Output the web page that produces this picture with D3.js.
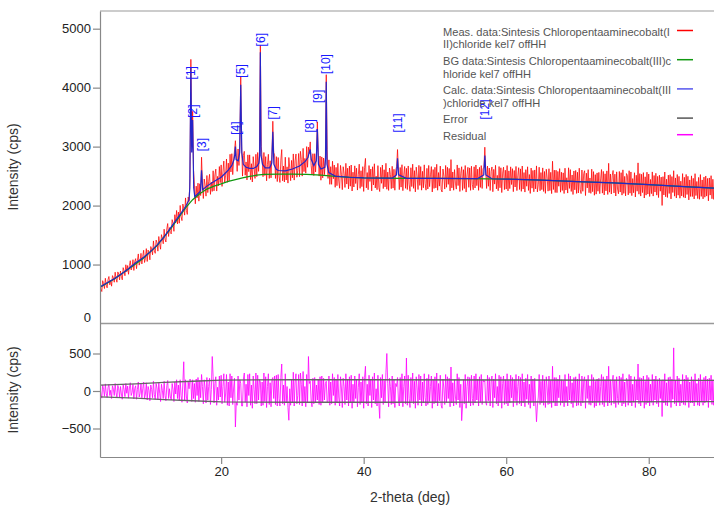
<!DOCTYPE html>
<meta charset="utf-8">
<script src="https://d3js.org/d3.v7.min.js"></script>
<style>
  body { margin: 0; background: #fff; }
  text { font-family: "Liberation Sans", Arial, sans-serif; }
</style>
<body></body>
<script>
// measured pattern, one value every 0.125 deg starting at 3 deg (one row per degree)
var measStart = 3, measStep = 0.125;
var measCps = [
  680,589,542,726,675,593,767,651,
  605,744,797,656,735,633,812,776,
  700,870,760,700,875,840,740,890,
  800,741,947,893,810,996,877,983,
  835,982,1065,907,960,1082,900,1052,
  1100,930,1070,1180,990,1050,1190,1010,
  1140,1242,1035,1107,1270,1052,1245,1207,
  1080,1305,1260,1165,1400,1235,1190,1415,
  1370,1227,1475,1352,1260,1507,1445,1352,
  1600,1431,1382,1603,1695,1476,1627,1538,
  1520,1761,1702,1563,1845,1706,1917,1688,
  1890,1701,2002,1813,1745,2026,1957,1838,
  2130,1915,1850,2145,2070,2460,4480,3000,
  3600,2600,2350,2030,2330,2130,2380,2075,
  2370,2170,2820,2360,2120,2450,2350,2160,
  2510,2220,2410,2530,2190,2400,2240,2590,
  2250,2520,2618,2246,2495,2335,2662,2390,
  2690,2325,2570,2755,2390,2515,2790,2395,
  2720,2420,2870,2570,2880,2525,2770,2925,
  3100,2850,2580,2960,2680,3050,4180,3000,
  2500,2850,2920,2515,2740,2435,2860,2575,
  2860,2440,2710,2400,2830,2650,2460,2870,
  2490,2900,2580,2900,4720,3000,2820,2490,
  2900,2510,2830,2420,2700,2870,2460,2760,
  2470,2870,3430,2900,2860,2460,2830,2407,
  2815,2493,2392,2771,2950,2420,2670,2400,
  2820,2433,2657,2381,2815,2638,2422,2766,
  2470,2876,2432,2758,2875,2481,2597,2883,
  2490,2920,2780,2500,2970,2575,2800,2550,
  3000,2650,2990,2880,3080,2680,2530,2880,
  2510,2880,2570,2880,3420,2900,2500,2840,
  2430,2825,2470,2807,2525,2800,4220,2950,
  2460,2775,2360,2660,2360,2752,2455,2687,
  2310,2648,2337,2716,2415,2294,2682,2531,
  2270,2659,2548,2307,2716,2365,2634,2283,
  2670,2329,2688,2247,2566,2315,2674,2374,
  2634,2263,2523,2702,2292,2591,2321,2660,
  2240,2650,2800,2300,2560,2269,2679,2409,
  2619,2249,2659,2349,2709,2299,2499,2269,
  2678,2308,2238,2648,2378,2688,2288,2608,
  2317,2717,2277,2567,2257,2637,2527,2287,
  2666,2296,2616,2260,2600,2660,2950,2600,
  2270,2646,2313,2693,2253,2523,2663,2293,
  2632,2272,2672,2362,2242,2642,2322,2702,
  2292,2592,2232,2652,2502,2272,2682,2342,
  2661,2261,2581,2301,2691,2371,2261,2631,
  2281,2681,2321,2521,2661,2231,2611,2291,
  2650,2300,2700,2260,2560,2330,2670,2270,
  2230,2620,2500,2280,2680,2310,2650,2360,
  2630,2250,2780,2300,2570,2260,2610,2380,
  2279,2689,2339,2639,2239,2549,2659,2259,
  2609,2289,2679,2229,2519,2649,2309,2639,
  2258,2668,2358,2268,2658,2298,2688,2338,
  2618,2258,2648,2308,2678,2290,2630,2640,
  2990,2620,2290,2670,2327,2637,2256,2576,
  2655,2235,2614,2364,2683,2283,2513,2252,
  2662,2302,2641,2221,2551,2651,2270,2600,
  2280,2679,2249,2588,2288,2657,2357,2626,
  2236,2595,2315,2664,2254,2503,2643,2272,
  2622,2241,2671,2280,2560,2229,2609,2328,
  2658,2257,2527,2206,2636,2295,2595,2234,
  2604,2283,2673,2232,2352,2651,2251,2560,
  2270,2639,2239,2578,2207,2616,2466,2245,
  2625,2254,2564,2203,2752,2272,2601,2221,
  2600,2219,2579,2328,2627,2227,2566,2256,
  2555,2204,2634,2263,2472,2212,2641,2291,
  2610,2239,2519,2188,2587,2267,2596,2206,
  2565,2214,2634,2274,2203,2603,2242,2542,
  2591,2170,2550,2299,2609,2218,2468,2207,
  2617,2236,2576,2175,2525,2194,2554,2243,
  2563,2202,2452,2611,2211,2580,2180,2539,
  2249,2588,2188,2717,2227,2536,2196,2505,
  2595,2214,2533,2162,2572,2281,2200,2579,
  2229,2558,2177,2606,2206,2495,2164,2543,
  2513,2182,2591,2210,2570,2169,2458,2217,
  2557,2146,2515,2244,2724,2193,2542,2161,
  2531,2220,2559,2128,2488,2177,2566,2195,
  2535,2154,2443,2202,2571,2161,2510,2229,
  2548,2177,2496,2136,2515,2244,2483,2002,
  2491,2180,2569,2149,2448,2137,2516,2205,
  2524,2113,2492,2222,2591,2160,2469,2128,
  2527,2176,2495,2125,2414,2163,2542,2141,
  2480,2129,2528,2188,2497,2096,2435,2154,
  2504,2153,2462,2112,2541,2170,2409,2118,
  2478,2107,2526,2156,2435,2114,2483,2142,
  2502,2161,2460,2080,2469,2178,2507,2116,
  2446,2105,2494,2144,2423,2082,2471,2150,
  2410
];
// residual, same grid
var residStart = 3, residStep = 0.125;
var residCps = [
  60,-40,-95,80,20,-70,95,-30,
  -85,45,90,-60,10,-100,70,25,
  -60,100,-20,-90,75,30,-80,60,
  -40,-110,85,20,-75,100,-30,65,
  -95,40,110,-60,-20,90,-105,35,
  70,-110,20,120,-80,-30,100,-90,
  30,120,-100,-40,110,-120,60,10,
  -130,80,20,-90,130,-50,-110,100,
  40,-120,110,-30,-140,90,10,-100,
  130,-60,-130,70,140,-100,30,-80,
  -120,100,20,-140,120,-40,150,-100,
  80,-130,150,-60,-150,110,390,-120,
  150,-80,-160,120,30,160,130,-140,
  150,-100,100,-150,160,-60,180,-140,
  140,-90,220,60,-170,150,40,-160,
  180,-120,60,170,-180,20,460,190,
  -160,100,190,-190,50,-120,200,-80,
  210,-170,60,230,-150,-40,220,-190,
  120,-200,230,-90,200,-180,40,170,
  -480,-150,-190,200,-120,150,100,-200,
  -200,160,240,-150,90,-210,220,-60,
  230,-190,80,-230,200,20,-170,240,
  -170,210,-120,150,120,-200,120,-190,
  240,-140,190,-220,60,230,-180,110,
  -210,150,180,-100,200,-180,210,-200,
  220,-100,-200,180,360,-170,80,-190,
  230,-160,60,-220,-390,30,-190,150,
  -150,250,-200,120,230,-170,-60,220,
  -180,240,90,-200,260,-150,60,-210,
  220,-160,460,100,130,-120,-210,170,
  -170,180,-150,80,-120,150,-180,190,
  -190,200,-160,170,-120,100,130,-150,
  -140,200,-190,120,-170,230,-60,180,
  -190,150,-160,220,-80,-200,190,40,
  -220,170,60,-180,230,-120,150,-200,
  190,-150,210,-230,90,-160,200,-100,
  160,-210,50,230,-180,120,-150,190,
  -230,180,330,-170,90,-200,210,-60,
  150,-220,190,-120,240,-170,30,-200,
  210,-160,-365,180,-90,220,-180,140,
  -150,250,500,100,-210,170,60,-180,
  200,-170,150,-220,100,60,180,-120,
  -200,180,-150,230,-210,60,200,-170,
  440,-190,210,-100,-220,180,-140,240,
  -170,130,-230,190,40,-190,220,-120,
  200,-200,120,-160,230,-90,-200,170,
  -180,220,-140,60,200,-230,150,-170,
  190,-160,240,-200,100,-130,210,-190,
  -230,160,40,-180,220,-150,190,-100,
  170,-210,320,-160,110,-200,150,-80,
  -180,230,-120,180,-220,90,-395,-200,
  150,-170,220,-230,60,190,-150,180,
  -200,210,-100,-190,200,-160,230,-120,
  160,-200,190,-150,220,-180,150,120,
  140,-150,-190,210,-130,180,-200,120,
  200,-220,160,-90,230,-170,60,-200,
  210,-150,190,-230,100,200,-180,150,
  -170,230,-200,140,-160,210,-90,180,
  -210,150,-130,220,-190,60,200,-170,
  180,-200,230,-160,120,-210,170,-110,
  220,-180,90,-230,200,-140,160,-200,
  170,-150,-410,-200,-80,220,-180,130,
  -160,210,-190,150,-220,190,40,-180,
  200,-170,140,-220,330,-150,180,-200,
  180,-200,160,-90,210,-190,150,-160,
  140,-210,220,-150,60,-200,230,-120,
  200,-170,110,-220,180,-140,190,-200,
  160,-190,230,-130,-200,200,-160,140,
  190,-230,150,-100,210,-180,70,-190,
  220,-160,180,-220,130,-200,160,-150,
  170,-190,60,220,-180,190,-210,150,
  -140,200,-200,330,-160,150,-190,120,
  210,-170,150,-220,190,-100,-180,200,
  -150,180,-200,230,-170,120,-210,170,
  140,-190,220,-160,200,-200,90,-150,
  190,-220,150,-120,360,-170,180,-200,
  170,-140,200,-230,130,-180,210,-160,
  180,-200,90,-150,220,-190,160,-120,
  200,-170,150,-210,170,-100,140,-340,
  150,-160,230,-190,110,-200,180,-130,
  190,-220,160,-110,575,-170,140,-200,
  200,-150,170,-200,90,-160,220,-180,
  160,-190,210,-130,180,-220,120,-160,
  190,-160,150,-200,230,-140,100,-190,
  170,-200,220,-150,130,-190,180,-160,
  200,-140,160,-220,170,-120,210,-180,
  150,-190,200,-150,130,-210,180,-140,
  120
];
// calculated profile [deg, cps]
var calcPts = [
  [3,620],[4,690],[5,760],[6,840],[7,930],[8,1030],[9,1110],[10,1210],[11,1330],[12,1470],
  [13,1640],[14,1810],[15,1980],[15.5,2100],[15.6,2300],[15.75,4350],[15.87,2900],[16,3450],
  [16.15,2300],[16.3,2150],[17,2230],[17.1,2260],[17.25,2600],[17.4,2270],[18,2330],[19,2410],
  [20,2480],[20.5,2540],[21,2600],[21.5,2680],[21.8,2780],[21.9,2850],[22,3000],[22.1,2780],
  [22.4,2760],[22.6,2900],[22.75,4050],[22.9,2900],[23.1,2700],[23.5,2650],[24,2630],[24.5,2630],
  [25,2660],[25.3,2720],[25.4,2850],[25.5,4600],[25.6,2850],[25.8,2700],[26.2,2640],[26.8,2640],
  [27.1,2720],[27.25,3250],[27.4,2700],[27.7,2620],[28,2595],[29,2590],[30,2620],[31,2670],
  [31.8,2750],[32.2,2820],[32.35,2900],[32.5,2950],[32.65,2780],[33,2680],[33.35,2760],[33.5,3300],
  [33.65,2700],[34,2620],[34.55,2650],[34.65,2800],[34.75,4100],[34.85,2700],[35.1,2560],[36,2500],
  [38,2480],[40,2470],[44,2465],[44.6,2520],[44.75,2800],[44.9,2520],[46,2462],[50,2460],
  [56,2458],[56.85,2520],[57,2850],[57.15,2520],[58,2455],[60,2450],[65,2430],[70,2405],
  [75,2385],[80,2355],[85,2320],[90,2290]
];
// background [deg, cps]
var bgPts = [
  [3,615],[5,755],[7,925],[9,1100],[11,1320],[13,1620],[15,1960],[16,2100],[17,2200],[18,2280],
  [19,2330],[20,2370],[21,2410],[22,2440],[23,2470],[24,2495],[25,2515],[26,2528],[28,2535],
  [30,2535],[32,2528],[34,2515],[36,2495],[38,2480],[40,2470],[45,2462],[50,2460],[55,2458],
  [60,2450],[65,2430],[70,2405],[75,2385],[80,2355],[85,2320],[90,2290]
];
// error envelope (+/-) [deg, cps]
var errPts = [[3,78],[8,95],[12,115],[16,130],[20,145],[30,150],[40,150],[60,147],[90,142]];

var peakNames = ["[1]","[2]","[3]","[4]","[5]","[6]","[7]","[8]","[9]","[10]","[11]","[12]"];
var peakDeg = [15.75,16.0,17.25,22.0,22.75,25.5,27.25,32.5,33.5,34.75,44.75,57.0];
var peakLabelCps = [4140,3490,2920,3200,4170,4700,3460,3240,3740,4230,3240,3460];

var legendText = [
  ["Meas. data:Sintesis Chloropentaaminecobalt(I", "II)chloride kel7 offHH"],
  ["BG data:Sintesis Chloropentaaminecobalt(III)c", "hloride kel7 offHH"],
  ["Calc. data:Sintesis Chloropentaaminecobalt(III", ")chloride kel7 offHH"],
  ["Error"],
  ["Residual"]
];
var legendColor = ["#ff0000", "#119911", "#5555ee", "#555555", "#ff00ff"];

var topTicks = [0,1000,2000,3000,4000,5000];
var botTicks = [-500,0,500];
var xTicks = [20,40,60,80];

var width = 714, height = 505;
var svg = d3.select("body").append("svg")
    .attr("width", width)
    .attr("height", height);

var x = d3.scaleLinear().domain([3, 90]).range([100, 720]);
var yTop = d3.scaleLinear().domain([0, 5300]).range([323.5, 11]);
var yBot = d3.scaleLinear().domain([-880, 900]).range([457, 323.5]);

var defs = svg.append("defs");
defs.append("clipPath").attr("id", "clipTop").append("rect")
    .attr("x", 100).attr("y", 11).attr("width", 620).attr("height", 312.5);
defs.append("clipPath").attr("id", "clipBot").append("rect")
    .attr("x", 100).attr("y", 323.5).attr("width", 620).attr("height", 133.5);

var meas = measCps.map(function(v, i) { return [measStart + i * measStep, v]; });
var resid = residCps.map(function(v, i) { return [residStart + i * residStep, v]; });

var lineTop = d3.line().x(function(d) { return x(d[0]); }).y(function(d) { return yTop(d[1]); });
var lineBot = d3.line().x(function(d) { return x(d[0]); }).y(function(d) { return yBot(d[1]); });

var gTop = svg.append("g").attr("clip-path", "url(#clipTop)");
gTop.append("path").datum(meas).attr("d", lineTop)
    .attr("fill", "none").attr("stroke", "#ff0000").attr("stroke-width", 0.75);
gTop.append("path").datum(bgPts).attr("d", lineTop)
    .attr("fill", "none").attr("stroke", "#119911").attr("stroke-width", 1.3);
gTop.append("path").datum(calcPts).attr("d", lineTop)
    .attr("fill", "none").attr("stroke", "#2424c8").attr("stroke-width", 1.2);

var gBot = svg.append("g").attr("clip-path", "url(#clipBot)");
gBot.append("path").datum(resid).attr("d", lineBot)
    .attr("fill", "none").attr("stroke", "#ff00ff").attr("stroke-width", 0.8);
[1, -1].forEach(function(s) {
  gBot.append("path").datum(errPts.map(function(d) { return [d[0], s * d[1]]; }))
      .attr("d", lineBot).attr("fill", "none")
      .attr("stroke", "#666").attr("stroke-width", 1.3);
});

// peak labels
svg.selectAll(".plab").data(peakNames).enter().append("text")
    .attr("class", "plab")
    .attr("transform", function(d, i) {
      return "translate(" + x(peakDeg[i]) + "," + yTop(peakLabelCps[i]) + ") rotate(-90)";
    })
    .attr("dy", "0.35em")
    .attr("font-size", "12px")
    .attr("fill", "#1a1aff")
    .text(function(d) { return d; });

// frames
svg.append("line").attr("x1", 100).attr("x2", 720).attr("y1", 11).attr("y2", 11)
    .attr("stroke", "#999").attr("stroke-width", 1.2);
svg.append("line").attr("x1", 100).attr("x2", 720).attr("y1", 323.5).attr("y2", 323.5)
    .attr("stroke", "#999").attr("stroke-width", 1.5);

function styleAxis(g) {
  g.selectAll("path, line").attr("stroke", "#888").attr("stroke-width", 1.2);
  g.selectAll("text").attr("fill", "#222").attr("font-size", "13px")
    .attr("font-family", "'Liberation Sans', Arial, sans-serif");
}

var fmt = d3.format("d");
var axTop = svg.append("g").attr("transform", "translate(100,0)")
    .call(d3.axisLeft(yTop).tickValues(topTicks).tickFormat(fmt)
      .tickSize(7).tickPadding(2).tickSizeOuter(0));
styleAxis(axTop);
axTop.selectAll(".tick").filter(function(d) { return d === 0; })
    .select("text").attr("y", -6);
axTop.selectAll(".tick").filter(function(d) { return d === 0; })
    .select("line").remove();

var axBot = svg.append("g").attr("transform", "translate(100,0)")
    .call(d3.axisLeft(yBot).tickValues(botTicks).tickFormat(fmt)
      .tickSize(7).tickPadding(2).tickSizeOuter(0));
styleAxis(axBot);

var axX = svg.append("g").attr("transform", "translate(0,457)")
    .call(d3.axisBottom(x).tickValues(xTicks).tickFormat(fmt)
      .tickSize(7).tickPadding(3).tickSizeOuter(0));
styleAxis(axX);

// axis titles
svg.append("text").attr("transform", "translate(18,167) rotate(-90)")
    .attr("text-anchor", "middle").attr("font-size", "14px").attr("fill", "#333")
    .text("Intensity (cps)");
svg.append("text").attr("transform", "translate(18,390) rotate(-90)")
    .attr("text-anchor", "middle").attr("font-size", "14px").attr("fill", "#333")
    .text("Intensity (cps)");
svg.append("text").attr("x", 410).attr("y", 502)
    .attr("text-anchor", "middle").attr("font-size", "14px").attr("fill", "#333")
    .text("2-theta (deg)");

// legend
var row = 0;
legendText.forEach(function(lines, i) {
  var y0 = 32 + row * 12.6 + i * 4;
  svg.append("line").attr("x1", 677).attr("x2", 693)
      .attr("y1", y0 - 1.5).attr("y2", y0 - 1.5)
      .attr("stroke", legendColor[i]).attr("stroke-width", 1.5);
  lines.forEach(function(t, j) {
    svg.append("text").attr("x", 443).attr("y", y0 + j * 12.6)
        .attr("dy", "0.35em").attr("font-size", "11.1px").attr("fill", "#555")
        .text(t);
  });
  row += lines.length;
});
</script>
</html>
